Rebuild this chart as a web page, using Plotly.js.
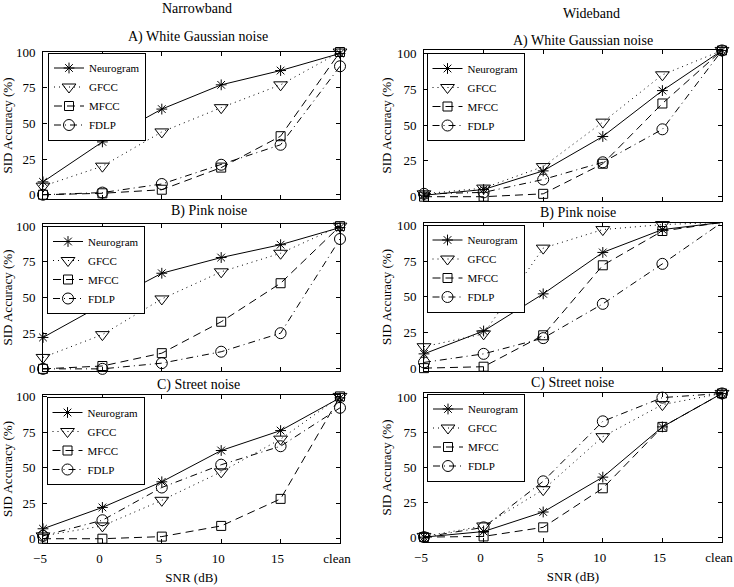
<!DOCTYPE html>
<html>
<head>
<meta charset="utf-8">
<script src="https://cdn.plot.ly/plotly-3.0.1.min.js"></script>
<style>html,body{margin:0;padding:0;background:#fff;}#chart{width:734px;height:587px;}</style>
</head>
<body>
<div id="chart"></div>
<script>
// ---- data ----
var snrValues = [-5, 0, 5, 10, 15, 20];
var snrLabels = ['\u22125', '0', '5', '10', '15', 'clean'];
var methods = ['Neurogram', 'GFCC', 'MFCC', 'FDLP'];
var columnTitles = ['Narrowband', 'Wideband'];
var noiseTitles = ['A) White Gaussian noise', 'B) Pink noise', 'C) Street noise'];

// Narrowband
var nbWhiteNeurogram = [9, 37, 60, 77, 87, 99];
var nbWhiteGFCC      = [6, 20, 44, 61, 77, 100];
var nbWhiteMFCC      = [0, 1, 3.5, 19, 41, 100];
var nbWhiteFDLP      = [0, 1.5, 7.5, 21, 35, 90];

var nbPinkNeurogram  = [22, 45, 67, 78, 87, 99];
var nbPinkGFCC       = [8, 24, 49, 68, 81, 100];
var nbPinkMFCC       = [0, 2, 11, 33, 60, 100];
var nbPinkFDLP       = [0, 0, 4, 12, 25, 91];

var nbStreetNeurogram = [7, 22, 40, 62, 76, 99];
var nbStreetGFCC      = [2, 9, 27, 47, 70, 100];
var nbStreetMFCC      = [0, 0, 1.5, 9, 28, 100];
var nbStreetFDLP      = [2, 13, 36, 52, 65, 92];

// Wideband
var wbWhiteNeurogram = [1, 5, 18, 42, 74, 102];
var wbWhiteGFCC      = [2, 6, 21, 52, 85, 102];
var wbWhiteMFCC      = [0, 0, 2, 23, 65, 102];
var wbWhiteFDLP      = [2, 3, 12, 24, 47, 102];

var wbPinkNeurogram  = [10, 26, 52, 81, 97, 102];
var wbPinkGFCC       = [15, 24, 84, 97, 100.5, 102];
var wbPinkMFCC       = [0, 1, 23, 72, 96, 102];
var wbPinkFDLP       = [4, 10, 21, 45, 73, 102];

var wbStreetNeurogram = [0, 4, 18, 43, 79, 103];
var wbStreetGFCC      = [0.5, 8, 34, 72, 95, 103];
var wbStreetMFCC      = [0, 0.5, 7, 35, 79, 103];
var wbStreetFDLP      = [0, 7, 40, 83, 100, 103];

// ---- styles ----
var FONT = 'Liberation Serif';
var W = 734, H = 587;
var styles = {
  Neurogram: {dash: 'solid', symbol: 'asterisk-open', size: 9},
  GFCC: {dash: '1px,4px', symbol: 'triangle-down-open', size: 12},
  MFCC: {dash: '8px,5px', symbol: 'square-open', size: 9},
  FDLP: {dash: '7px,4px,1px,4px', symbol: 'circle-open', size: 11}
};

// panel geometry in pixels: [left, right, top, bottom]
var panels = [
  {series: [nbWhiteNeurogram, nbWhiteGFCC, nbWhiteMFCC, nbWhiteFDLP], px: [43, 340, 52, 199], yr: [-3, 100], title: noiseTitles[0], tx: 198, ty: 37, leg: [48, 52.5]},
  {series: [wbWhiteNeurogram, wbWhiteGFCC, wbWhiteMFCC, wbWhiteFDLP], px: [424, 722, 50, 201], yr: [-3, 102.3], title: noiseTitles[0], tx: 583, ty: 41, leg: [426.5, 53]},
  {series: [nbPinkNeurogram, nbPinkGFCC, nbPinkMFCC, nbPinkFDLP], px: [43, 340, 224, 371], yr: [-1.5, 101.5], title: noiseTitles[1], tx: 209, ty: 211, leg: [47, 226]},
  {series: [wbPinkNeurogram, wbPinkGFCC, wbPinkMFCC, wbPinkFDLP], px: [424, 722, 223, 371], yr: [-2, 101.6], title: noiseTitles[1], tx: 578, ty: 213, leg: [426.5, 224.5]},
  {series: [nbStreetNeurogram, nbStreetGFCC, nbStreetMFCC, nbStreetFDLP], px: [43, 340, 395, 543], yr: [-3, 101], title: noiseTitles[2], tx: 198, ty: 385, leg: [46.5, 397]},
  {series: [wbStreetNeurogram, wbStreetGFCC, wbStreetMFCC, wbStreetFDLP], px: [424, 722, 393, 542], yr: [-3.5, 103.3], title: noiseTitles[2], tx: 572, ty: 383, leg: [427, 393.5]}
];

var data = [];
var layout = {
  width: W, height: H,
  margin: {l: 0, r: 0, t: 0, b: 0},
  paper_bgcolor: '#fff', plot_bgcolor: '#fff',
  font: {family: FONT, size: 13, color: '#000'},
  showlegend: true,
  annotations: [
    {text: columnTitles[0], x: 197 / W, y: 1 - 8 / H, xref: 'paper', yref: 'paper', xanchor: 'center', yanchor: 'middle', showarrow: false, font: {family: FONT, size: 14, color: '#000'}},
    {text: columnTitles[1], x: 591 / W, y: 1 - 13 / H, xref: 'paper', yref: 'paper', xanchor: 'center', yanchor: 'middle', showarrow: false, font: {family: FONT, size: 14, color: '#000'}}
  ]
};

panels.forEach(function (p, i) {
  var n = i + 1;
  var xa = n === 1 ? 'x' : 'x' + n;
  var ya = n === 1 ? 'y' : 'y' + n;
  var legName = n === 1 ? 'legend' : 'legend' + n;
  var bottomRow = i >= 4;
  methods.forEach(function (m, k) {
    var st = styles[m];
    data.push({
      type: 'scatter', mode: 'lines+markers', name: m,
      x: snrValues, y: p.series[k],
      xaxis: xa, yaxis: ya, legend: legName,
      cliponaxis: false,
      line: {color: '#000', width: 1, dash: st.dash},
      marker: {symbol: st.symbol, size: st.size, color: '#000', line: {color: '#000', width: 1}}
    });
  });
  layout[(n === 1 ? 'xaxis' : 'xaxis' + n)] = {
    domain: [p.px[0] / W, p.px[1] / W], anchor: ya,
    range: [-5, 20], tickvals: snrValues, ticktext: snrLabels,
    showticklabels: bottomRow, ticklabeloverflow: 'allow', ticklabelshift: -3,
    ticks: 'inside', ticklen: 4, tickcolor: '#000', tickwidth: 1,
    showline: true, mirror: 'ticks', linecolor: '#000', linewidth: 1,
    showgrid: false, zeroline: false,
    tickfont: {family: FONT, size: 13, color: '#000'},
    ticklabelstandoff: 3,
    title: bottomRow ? {text: 'SNR (dB)', font: {family: FONT, size: 13, color: '#000'}, standoff: 8} : {text: ''}
  };
  layout[(n === 1 ? 'yaxis' : 'yaxis' + n)] = {
    domain: [1 - p.px[3] / H, 1 - p.px[2] / H], anchor: xa,
    range: p.yr, tickvals: [0, 25, 50, 75, 100],
    ticks: 'inside', ticklen: 4, tickcolor: '#000', tickwidth: 1,
    showline: true, mirror: 'ticks', linecolor: '#000', linewidth: 1,
    showgrid: false, zeroline: false,
    tickfont: {family: FONT, size: 13, color: '#000'},
    ticklabelstandoff: 4,
    title: {text: 'SID Accuracy (%)', font: {family: FONT, size: 13, color: '#000'}, standoff: 2}
  };
  layout[legName] = {
    x: p.leg[0] / W, y: 1 - p.leg[1] / H, xref: 'paper', yref: 'paper',
    xanchor: 'left', yanchor: 'top',
    bgcolor: '#fff', bordercolor: '#000', borderwidth: 1,
    font: {family: FONT, size: 11, color: '#000'},
    itemwidth: 30, tracegroupgap: 0
  };
  layout.annotations.push({
    text: p.title, x: p.tx / W, y: 1 - p.ty / H, xref: 'paper', yref: 'paper',
    xanchor: 'center', yanchor: 'middle', showarrow: false,
    font: {family: FONT, size: 14, color: '#000'}
  });
});

Plotly.newPlot('chart', data, layout, {displayModeBar: false, staticPlot: true});
</script>
</body>
</html>
